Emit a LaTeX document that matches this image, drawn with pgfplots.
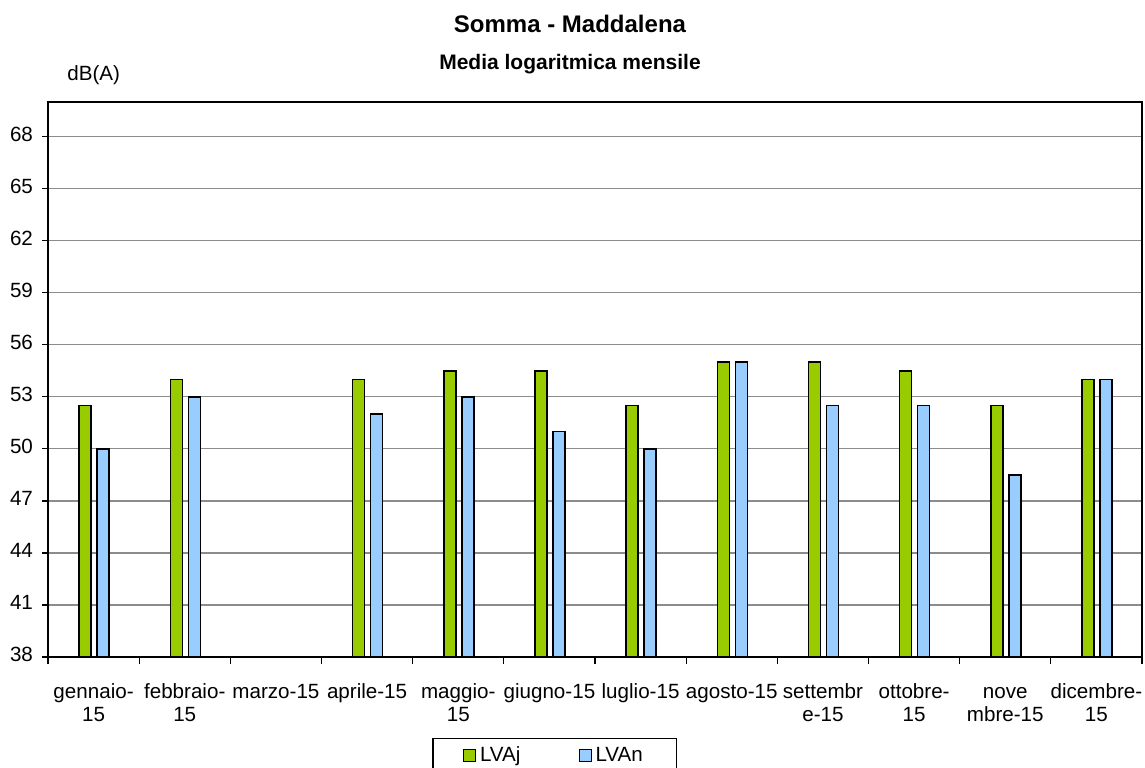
\documentclass[border=0pt]{standalone}
\usepackage{pgfplots}
\pgfplotsset{compat=1.18}
\usepackage{fontspec}
\setmainfont{Liberation Sans}
\definecolor{lvaj}{HTML}{99CC00}
\definecolor{lvan}{HTML}{99CCFF}
\definecolor{gridgray}{HTML}{8C8C8C}

\begin{document}
\begin{tikzpicture}
\useasboundingbox (-24pt,-55pt) rectangle (548.5pt,328.5pt);
\begin{axis}[
    width=547pt, height=277.5pt, scale only axis,
    ymin=38, ymax=70, ytick={38,41,...,68},
    xmin=-0.5, xmax=11.5,
    xtick={0,...,11},
    xticklabels={{gennaio-\\15},{febbraio-\\15},{marzo-15},{aprile-15},{maggio-\\15},{giugno-15},{luglio-15},{agosto-15},{settembr\\e-15},{ottobre-\\15},{nove\\mbre-15},{dicembre-\\15}},
    minor xtick={-0.5,0.5,...,11.5},
    major x tick style={draw=none},
    minor x tick style={black, line width=0.6pt},
    ytick style={black, line width=0.6pt},
    tick align=outside, tick pos=left,
    major tick length=3pt, minor tick length=3.5pt,
    ymajorgrids, major grid style={gridgray, line width=0.6pt},
    axis line style={black, line width=0.75pt},
    tick label style={font=\fontsize{10.3}{11.5}\selectfont},
    /pgf/number format/assume math mode=true,
    typeset ticklabels with strut,
    x tick label style={align=center, anchor=north, yshift=-6pt},
    y tick label style={xshift=-1pt},
    ybar, bar width=6pt,
    legend style={at={(0.4634,-0.146)}, anchor=north, draw=black, line width=0.6pt,
        legend columns=2, font=\fontsize{10.3}{12}\selectfont,
        inner xsep=15pt, inner ysep=2pt,
        /tikz/every even column/.append style={column sep=27pt}},
    legend image code/.code={\draw[#1, draw=black, line width=0.5pt] (0pt,-3pt) rectangle (6pt,3pt);},
]
\addplot[fill=lvaj, draw=black, line width=0.75pt, bar shift=-4.25pt] coordinates
    {(0,52.5) (1,54) (3,54) (4,54.5) (5,54.5) (6,52.5) (7,55) (8,55) (9,54.5) (10,52.5) (11,54)};
\addplot[fill=lvan, draw=black, line width=0.75pt, bar shift=4.75pt] coordinates
    {(0,50) (1,53) (3,52) (4,53) (5,51) (6,50) (7,55) (8,52.5) (9,52.5) (10,48.5) (11,54)};
\legend{LVAj,LVAn}
\end{axis}
\node[anchor=base, font=\bfseries\fontsize{12}{14}\selectfont] at (261pt,312pt) {Somma - Maddalena};
\node[anchor=base, font=\bfseries\fontsize{10.5}{12}\selectfont] at (261pt,293.5pt) {Media logaritmica mensile};
\node[anchor=base west, inner sep=0pt, font=\fontsize{10.3}{12}\selectfont] at (9.5pt,288pt) {dB(A)};
\end{tikzpicture}
\end{document}
